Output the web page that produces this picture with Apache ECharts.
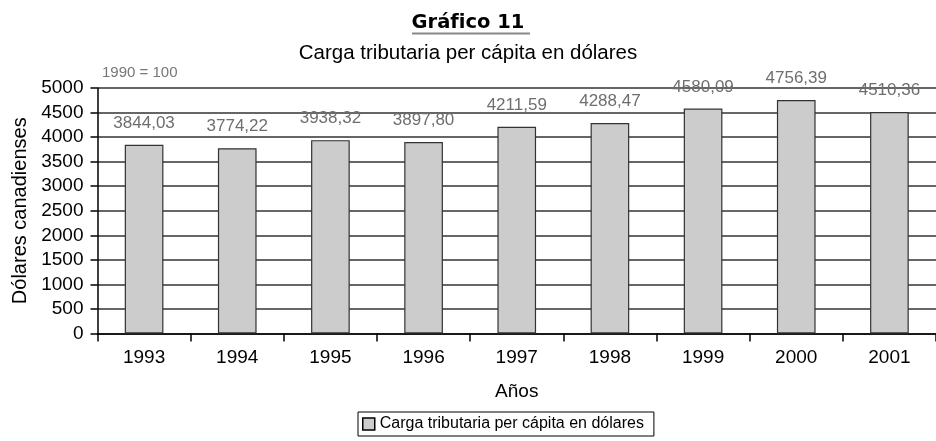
<html lang="es">
<head>
    <meta charset="UTF-8">
    <title>Gráfico 11</title>
    <script src="https://cdn.jsdelivr.net/npm/echarts@6.0.0/dist/echarts.min.js"></script>
    <style>
        html, body { margin: 0; padding: 0; background: #fff; }
        #chart { width: 936px; height: 441px; }
    </style>
</head>
<body>
    <div id="chart"></div>
    <script>
        // datos
        const years = ['1993', '1994', '1995', '1996', '1997', '1998', '1999', '2000', '2001'];
        const carga = [3844.03, 3774.22, 3938.32, 3897.80, 4211.59, 4288.47, 4580.09, 4756.39, 4510.36];

        const font = '"Liberation Sans", Arial, sans-serif';
        const chart = echarts.init(document.getElementById('chart'));

        const option = {
            animation: false,
            textStyle: { fontFamily: font },
            title: [
                {
                    text: 'Gráfico 11',
                    left: 'center',
                    top: 8,
                    textStyle: { fontSize: 19.5, fontWeight: 'bold', color: '#000', fontFamily: '"DejaVu Sans"' }
                },
                {
                    text: 'Carga tributaria per cápita en dólares',
                    left: 'center',
                    top: 38,
                    textStyle: { fontSize: 20.5, fontWeight: 'normal', color: '#000', fontFamily: font }
                },
                {
                    text: '1990 = 100',
                    left: 97,
                    top: 60,
                    textStyle: { fontSize: 15, fontWeight: 'normal', color: '#777', fontFamily: font }
                }
            ],
            graphic: [
                {
                    type: 'line',
                    shape: { x1: 412, y1: 33.5, x2: 530, y2: 33.5 },
                    style: { stroke: '#888', lineWidth: 2 }
                }
            ],
            legend: {
                top: 412,
                left: 358,
                icon: 'rect',
                itemWidth: 12,
                itemHeight: 12,
                itemGap: 6,
                padding: [4, 10, 4, 4],
                borderColor: '#000',
                borderWidth: 1,
                borderRadius: 0,
                itemStyle: { borderColor: '#000', borderWidth: 1.5 },
                textStyle: { fontSize: 16, color: '#000', fontFamily: font },
                data: ['Carga tributaria per cápita en dólares']
            },
            grid: { left: 97.5, width: 849, top: 88, bottom: 107.5 },
            xAxis: {
                type: 'category',
                data: years,
                name: 'Años',
                nameLocation: 'middle',
                nameGap: 49,
                nameTextStyle: { fontSize: 19, color: '#000' },
                axisLine: { lineStyle: { color: '#000', width: 1.5 } },
                axisTick: { show: true, length: 8, lineStyle: { color: '#000', width: 1.5 } },
                axisLabel: { fontSize: 19, color: '#000', margin: 15 }
            },
            yAxis: {
                type: 'value',
                min: 0,
                max: 5000,
                interval: 500,
                name: 'Dólares canadienses',
                nameLocation: 'middle',
                nameGap: 66,
                nameTextStyle: { fontSize: 20, color: '#000' },
                axisLine: { show: true, lineStyle: { color: '#000', width: 1.5 } },
                axisTick: { show: true, length: 7, lineStyle: { color: '#000', width: 1.5 } },
                axisLabel: { fontSize: 19, color: '#000', margin: 14, formatter: v => String(v) },
                splitLine: { lineStyle: { color: '#333', width: 1.5 } }
            },
            series: [
                {
                    name: 'Carga tributaria per cápita en dólares',
                    type: 'bar',
                    barWidth: '41.5%',
                    itemStyle: { color: '#cccccc', borderColor: '#333', borderWidth: 1.2 },
                    label: {
                        show: true,
                        position: 'top',
                        distance: 13,
                        fontSize: 17,
                        color: '#6e6e6e',
                        fontFamily: font,
                        formatter: p => p.value.toFixed(2).replace('.', ',')
                    },
                    data: carga
                }
            ]
        };

        chart.setOption(option);
    </script>
</body>
</html>
